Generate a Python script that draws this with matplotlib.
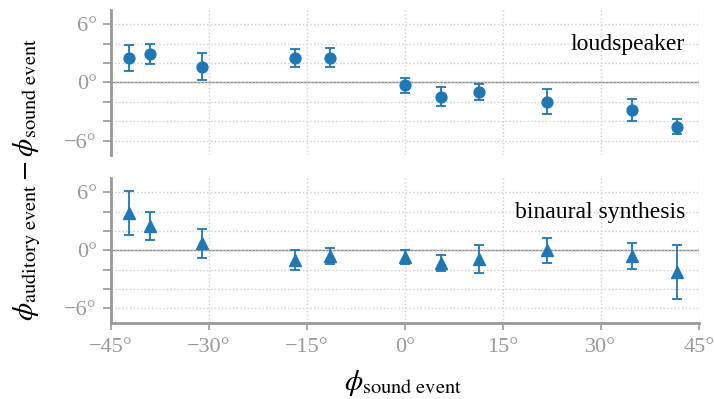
import matplotlib
matplotlib.use('Agg')
import matplotlib.pyplot as plt
from matplotlib.ticker import MultipleLocator, FixedLocator

plt.rcParams['font.family'] = ['Liberation Serif', 'DejaVu Serif']
plt.rcParams['mathtext.fontset'] = 'stix'

# Daten (Grad)
azimuth = [-42.2, -39.0, -31.1, -16.8, -11.4, 0.0, 5.6, 11.3, 21.7, 34.7, 41.6]

loudspeaker_mean = [2.5, 2.95, 1.65, 2.55, 2.57, -0.31, -1.46, -0.97, -2.0, -2.83, -4.56]
loudspeaker_err = [1.35, 1.0, 1.4, 0.92, 1.0, 0.78, 0.95, 0.8, 1.3, 1.13, 0.8]

binaural_mean = [3.85, 2.55, 0.75, -1.0, -0.6, -0.7, -1.3, -0.9, 0.0, -0.6, -2.25]
binaural_err = [2.25, 1.45, 1.5, 1.0, 0.85, 0.75, 0.8, 1.45, 1.25, 1.35, 2.8]

x_ticks = [-45, -30, -15, 0, 15, 30, 45]
y_ticks = [-6, 0, 6]

blue = '#1f77b4'
grey = '#999999'

fig = plt.figure(figsize=(7.14, 3.99), dpi=100)
ax1 = fig.add_axes([0.155, 0.6115, 0.824, 0.3635])
ax2 = fig.add_axes([0.155, 0.1905, 0.824, 0.3635])


def deg(v):
    return ('\u2212%d°' % abs(v)) if v < 0 else '%d°' % v


panels = [
    (ax1, loudspeaker_mean, loudspeaker_err, 'o', 7.8, 'loudspeaker'),
    (ax2, binaural_mean, binaural_err, '^', 8.5, 'binaural synthesis'),
]

for ax, mean, err, marker, ms, label in panels:
    ax.errorbar(azimuth, mean, yerr=err, fmt=marker, color=blue, ms=ms,
                ecolor=blue, elinewidth=1.3, capsize=3.5, capthick=1.3, zorder=3)
    ax.axhline(0, color='#888888', lw=1, zorder=1)
    ax.set_xlim(-45, 45)
    ax.set_ylim(-7.5, 7.5)
    ax.xaxis.set_major_locator(FixedLocator(x_ticks))
    ax.yaxis.set_major_locator(FixedLocator(y_ticks))
    ax.yaxis.set_minor_locator(MultipleLocator(2))
    ax.set_yticklabels([deg(v) for v in y_ticks])
    ax.grid(True, which='both', axis='y', ls=':', color='#cccccc', lw=1)
    ax.grid(True, which='major', axis='x', ls=':', color='#cccccc', lw=1)
    for s in ['top', 'right']:
        ax.spines[s].set_visible(False)
    ax.spines['left'].set_color(grey)
    ax.spines['left'].set_linewidth(2)
    ax.spines['bottom'].set_color(grey)
    ax.spines['bottom'].set_linewidth(2)
    ax.tick_params(axis='y', which='both', colors=grey, length=6, width=1.2,
                   labelsize=16, pad=4)
    ax.tick_params(axis='x', colors=grey, length=5, width=1.2, labelsize=16, pad=6)
    ax.text(0.976, 0.765, label, transform=ax.transAxes, ha='right', va='center',
            fontsize=17, color='black')

ax1.spines['bottom'].set_visible(False)
ax1.tick_params(axis='x', length=0, labelbottom=False)
ax2.set_xticklabels([deg(v) for v in x_ticks])

fig.text(0.565, 0.04, r'$\phi_{\mathrm{sound\ event}}$', ha='center', va='center',
         fontsize=21)
fig.text(0.038, 0.549, r'$\phi_{\mathrm{auditory\ event}} - \phi_{\mathrm{sound\ event}}$',
         ha='center', va='center', rotation=90, fontsize=21)

fig.savefig('out.png', dpi=100)
